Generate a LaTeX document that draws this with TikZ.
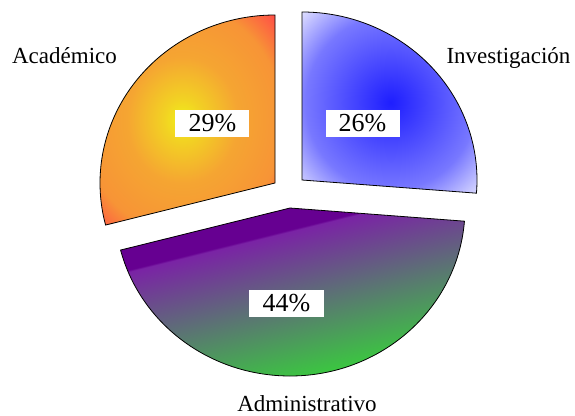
\documentclass[tikz,border=0pt]{standalone}
\usepackage{fontspec}
\setmainfont{Liberation Serif}
\usetikzlibrary{positioning}

\definecolor{acadcenter}{RGB}{240,240,25}
\definecolor{acadmid}{RGB}{245,165,50}
\definecolor{acadedge}{RGB}{255,80,70}
\definecolor{invcenter}{RGB}{30,30,255}
\definecolor{invmid}{RGB}{120,120,255}
\definecolor{invedge}{RGB}{228,228,255}
\definecolor{admtop}{RGB}{102,0,145}
\definecolor{admlight}{RGB}{122,35,165}
\definecolor{admbot}{RGB}{50,222,50}

\pgfdeclareradialshading{acadshade}{\pgfpoint{0bp}{0bp}}{color(0bp)=(acadcenter); color(5bp)=(acadcenter!60!acadmid); color(15bp)=(acadmid); color(27bp)=(acadmid!80!acadedge); color(35bp)=(acadedge); color(50bp)=(acadedge)}
\pgfdeclareradialshading{invshade}{\pgfpoint{0bp}{0bp}}{color(0bp)=(invcenter); color(24bp)=(invmid); color(36bp)=(invedge); color(50bp)=(invedge)}
\pgfdeclareverticalshading{admshade}{100bp}{color(0bp)=(admbot); color(25bp)=(admbot); color(65bp)=(admlight); color(65.5bp)=(admtop); color(100bp)=(admtop)}

\begin{document}
\begin{tikzpicture}[x=1pt,y=1pt,
    slice/.style={draw=black, line width=0.8pt},
    pct/.style={fill=white, inner sep=0pt, minimum width=74, minimum height=27, font=\fontsize{26}{28}\selectfont},
    lbl/.style={anchor=base, font=\fontsize{23}{27}\selectfont}]
	\useasboundingbox (-289,-222) rectangle (286,193);
	
	% Investigacion slice
	\shadedraw[slice, shading=invshade] (13,13) -- +(90:175 and 168)
		arc[start angle=90, end angle=-4.5, x radius=175, y radius=168] -- cycle;
	
	% Administrativo slice
	\shadedraw[slice, shading=admshade, shading angle=14] (1,-15) -- +(-4.5:175 and 168)
		arc[start angle=-4.5, end angle=-165.5, x radius=175, y radius=168] -- cycle;
	
	% Academico slice
	\shadedraw[slice, shading=acadshade] (-14,10) -- +(194.5:175 and 168)
		arc[start angle=194.5, end angle=90, x radius=175, y radius=168] -- cycle;
	
	% percentages
	\node[pct] (invpct) at (73.5,69.5) {26\%};
	\node[pct] (admpct) at (-2.5,-110) {44\%};
	\node[pct] (acadpct) at (-76.5,69.5) {29\%};
	
	% names
	\node[lbl] (invlbl) at (219.5,129) {Investigación};
	\node[lbl] (admlbl) at (18,-218) {Administrativo};
	\node[lbl] (acadlbl) at (-224.5,129) {Académico};
\end{tikzpicture}
\end{document}
